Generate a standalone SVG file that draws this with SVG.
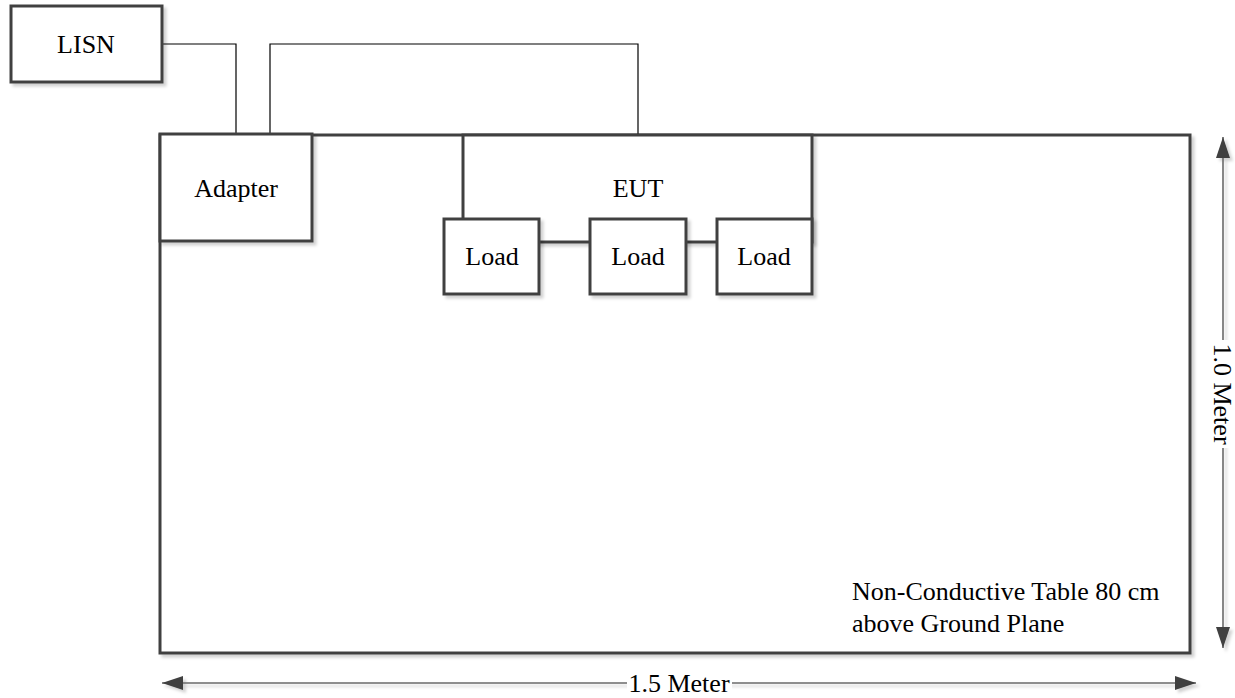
<svg xmlns="http://www.w3.org/2000/svg" width="1235" height="698" viewBox="0 0 1235 698">
  <defs>
    <filter id="sh" x="-10%" y="-10%" width="130%" height="130%">
      <feDropShadow dx="3" dy="3" stdDeviation="1.5" flood-color="#000" flood-opacity="0.18"/>
    </filter>
    <marker id="ah" viewBox="0 0 21 14" refX="21" refY="7" markerWidth="21" markerHeight="14" markerUnits="userSpaceOnUse" orient="auto-start-reverse">
      <path d="M0,0 L21,7 L0,14 Z" fill="#404040"/>
    </marker>
    <style>
      .box { fill: #fff; stroke: #404040; stroke-width: 3; }
      .lbl { font-family: 'Liberation Serif', 'DejaVu Serif', serif; font-size: 26px; fill: #000; }
      .mid { text-anchor: middle; }
      .wire { fill: none; stroke: #000; stroke-width: 1.2; }
      .dim { fill: none; stroke: #6a6a6a; stroke-width: 1.6; }
    </style>
  </defs>
  <rect width="1235" height="698" fill="#fff"/>

  <g id="table">
    <rect class="box" x="160" y="135" width="1030" height="518" filter="url(#sh)"/>
    <text class="lbl" font-family="Liberation Serif, serif" x="852" y="600">Non-Conductive Table 80 cm</text>
    <text class="lbl" font-family="Liberation Serif, serif" x="852" y="632">above Ground Plane</text>
  </g>

  <g id="connectors">
    <polyline class="wire" points="162,44 236,44 236,134"/>
    <polyline class="wire" points="270,134 270,44 638,44 638,135"/>
  </g>

  <g id="lisn">
    <rect class="box" x="11" y="6" width="151" height="76" filter="url(#sh)"/>
    <text class="lbl mid" x="86" y="53">LISN</text>
  </g>

  <g id="adapter">
    <rect class="box" x="160" y="134" width="152" height="107" filter="url(#sh)"/>
    <text class="lbl mid" x="236" y="197">Adapter</text>
  </g>

  <g id="eut">
    <rect class="box" x="463" y="135" width="349" height="107" filter="url(#sh)"/>
    <text class="lbl mid" x="638" y="197">EUT</text>
  </g>

  <g id="load1">
    <rect class="box" x="444" y="219" width="95" height="75" filter="url(#sh)"/>
    <text class="lbl mid" x="492" y="265">Load</text>
  </g>
  <g id="load2">
    <rect class="box" x="590" y="219" width="96" height="75" filter="url(#sh)"/>
    <text class="lbl mid" x="638" y="265">Load</text>
  </g>
  <g id="load3">
    <rect class="box" x="717" y="219" width="95" height="75" filter="url(#sh)"/>
    <text class="lbl mid" x="764" y="265">Load</text>
  </g>

  <g id="dimensions">
    <g filter="url(#sh)">
      <line class="dim" x1="162" y1="683" x2="1196" y2="683" marker-start="url(#ah)" marker-end="url(#ah)"/>
      <line class="dim" x1="1223" y1="137" x2="1223" y2="648" marker-start="url(#ah)" marker-end="url(#ah)"/>
    </g>
    <rect x="627" y="670" width="105" height="26" fill="#fff"/>
    <text class="lbl mid" x="679" y="692">1.5 Meter</text>
    <rect x="1210" y="340" width="26" height="108" fill="#fff"/>
    <text class="lbl mid" transform="translate(1214,394) rotate(90)" x="0" y="0">1.0 Meter</text>
  </g>
</svg>
